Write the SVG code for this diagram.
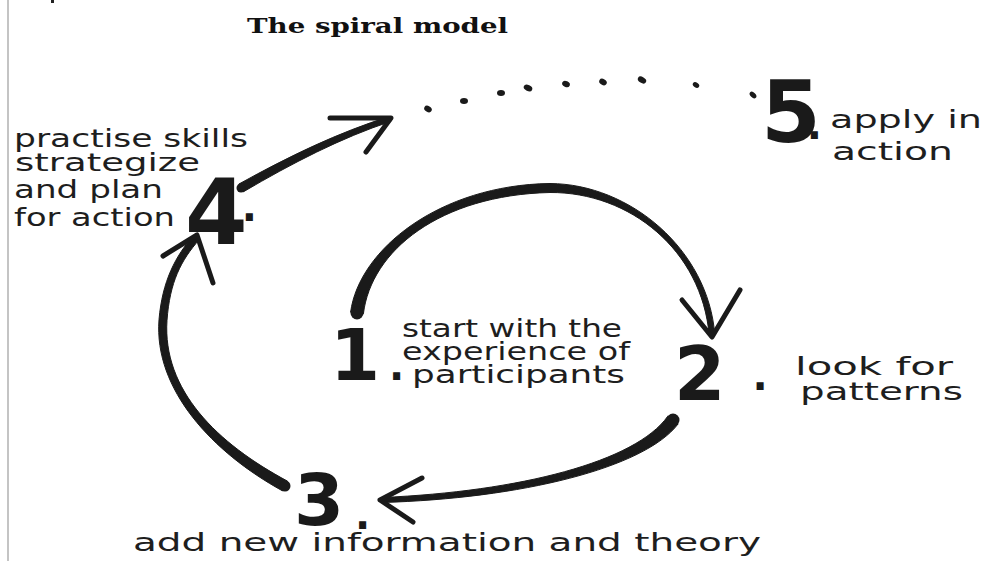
<svg xmlns="http://www.w3.org/2000/svg" width="984" height="561" viewBox="0 0 984 561">
<style>
.hand{font-family:"DejaVu Sans","Liberation Sans",sans-serif;font-size:25px;fill:#1e1e1e}
.num{font-family:"DejaVu Sans","Liberation Sans",sans-serif;font-weight:bold;fill:#1a1a1a}
.pt{font-size:40px}
.title{font-family:"DejaVu Serif","Liberation Serif",serif;font-weight:bold;font-size:21px;fill:#111}
.tap{fill:#1a1a1a;stroke:#1a1a1a;stroke-width:1;stroke-linejoin:round}
.head{fill:none;stroke:#1a1a1a;stroke-width:5;stroke-linecap:round;stroke-linejoin:round}
.dot{fill:#1a1a1a}
</style>
<rect width="984" height="561" fill="#fff"/>
<line x1="8" y1="0" x2="8" y2="561" stroke="#b0b0b0" stroke-width="1.5"/>
<rect x="51" y="0" width="3" height="3" fill="#222"/>

<g id="title">
<text class="title" x="247" y="33" textLength="261" lengthAdjust="spacingAndGlyphs">The spiral model</text>
</g>

<g id="connectors">
<!-- 1 to 2 -->
<path class="tap" d="M350.6,312.2 C359,249.2 440,185 550,183.5 C630,184 708.2,249.7 714.8,334.8 L709.2,335.2 C701.8,250.3 630,192 550,192.5 C440,195 371,250.8 363.4,313.8 Z"/>
<circle class="dot" cx="357" cy="313" r="6.5"/>
<path class="head" d="M682,300 L712,337 L740,290"/>
<!-- 2 to 3 -->
<path class="tap" d="M667.8,416.2 C635.6,461.8 519.9,491.5 381.9,497.5 L382.1,502.5 C520.1,498.5 644.4,468.3 678.2,423.8 Z"/>
<circle class="dot" cx="673" cy="420" r="6.5"/>
<path class="head" d="M422,478 L380,500 L413,522"/>
<!-- 3 to 4 -->
<path class="tap" d="M282.4,490.8 C212.6,452.4 153.7,389.7 159,319.7 C162.2,281.7 175.3,255.6 194.4,234.7 L199.6,239.3 C180.7,260.4 169.8,282.3 167,320.3 C162.3,390.3 217.4,443.6 287.6,481.2 Z"/>
<circle class="dot" cx="285" cy="486" r="5.5"/>
<path class="head" d="M163,256 L197,235 L213,283"/>
<!-- 4 to 5 -->
<path class="tap" d="M238.8,184.1 C288.1,156.7 339.1,132.1 389.2,116.6 L390.8,121.4 C340.9,137.9 291.9,163.3 243.2,191.9 Z"/>
<circle class="dot" cx="241" cy="188" r="4.5"/>
<path class="head" d="M330,118 L391,118 L366,152"/>
<!-- dotted continuation -->
<g class="dot">
<ellipse cx="428" cy="109" rx="4" ry="3" transform="rotate(30 428 109)"/>
<ellipse cx="464" cy="101" rx="4" ry="3"/>
<ellipse cx="501" cy="93" rx="4" ry="3"/>
<ellipse cx="528" cy="88" rx="4.5" ry="3" transform="rotate(25 528 88)"/>
<ellipse cx="566" cy="84" rx="4" ry="3" transform="rotate(25 566 84)"/>
<ellipse cx="603" cy="82" rx="4" ry="3" transform="rotate(30 603 82)"/>
<ellipse cx="642" cy="80" rx="4.5" ry="3" transform="rotate(30 642 80)"/>
<ellipse cx="696" cy="85" rx="3.5" ry="2.5" transform="rotate(35 696 85)"/>
<ellipse cx="753" cy="95" rx="4" ry="2.5" transform="rotate(45 753 95)"/>
</g>
</g>

<g id="n1">
<text class="num" x="330" y="380" font-size="72">1<tspan class="pt" dx="9">.</tspan></text>
<text class="hand" x="402" y="337" textLength="220" lengthAdjust="spacingAndGlyphs">start with the</text>
<text class="hand" x="402" y="360" textLength="228" lengthAdjust="spacingAndGlyphs">experience of</text>
<text class="hand" x="412" y="383" textLength="213" lengthAdjust="spacingAndGlyphs">participants</text>
</g>

<g id="n2">
<text class="num" x="674" y="400" font-size="74">2<tspan class="pt" dx="27" dy="-10">.</tspan></text>
<text class="hand" x="795" y="375" textLength="158" lengthAdjust="spacingAndGlyphs">look for</text>
<text class="hand" x="800" y="400" textLength="163" lengthAdjust="spacingAndGlyphs">patterns</text>
</g>

<g id="n3">
<text class="num" x="294" y="525" font-size="72">3<tspan class="pt" dx="11" dy="4">.</tspan></text>
<text class="hand" x="133" y="551" textLength="628" lengthAdjust="spacingAndGlyphs">add new information and theory</text>
</g>

<g id="n4">
<text class="num" x="185" y="244" font-size="90">4<tspan class="pt" dx="-6" dy="-23">.</tspan></text>
<text class="hand" x="14" y="147" textLength="234" lengthAdjust="spacingAndGlyphs">practise skills</text>
<text class="hand" x="15" y="171" textLength="185" lengthAdjust="spacingAndGlyphs">strategize</text>
<text class="hand" x="14" y="198" textLength="149" lengthAdjust="spacingAndGlyphs">and plan</text>
<text class="hand" x="14" y="226" textLength="161" lengthAdjust="spacingAndGlyphs">for action</text>
</g>

<g id="n5">
<text class="num" x="761" y="142" font-size="86">5<tspan class="pt" dx="-14" dy="-3">.</tspan></text>
<text class="hand" x="830" y="128" textLength="152" lengthAdjust="spacingAndGlyphs">apply in</text>
<text class="hand" x="832" y="160" textLength="121" lengthAdjust="spacingAndGlyphs">action</text>
</g>
</svg>
